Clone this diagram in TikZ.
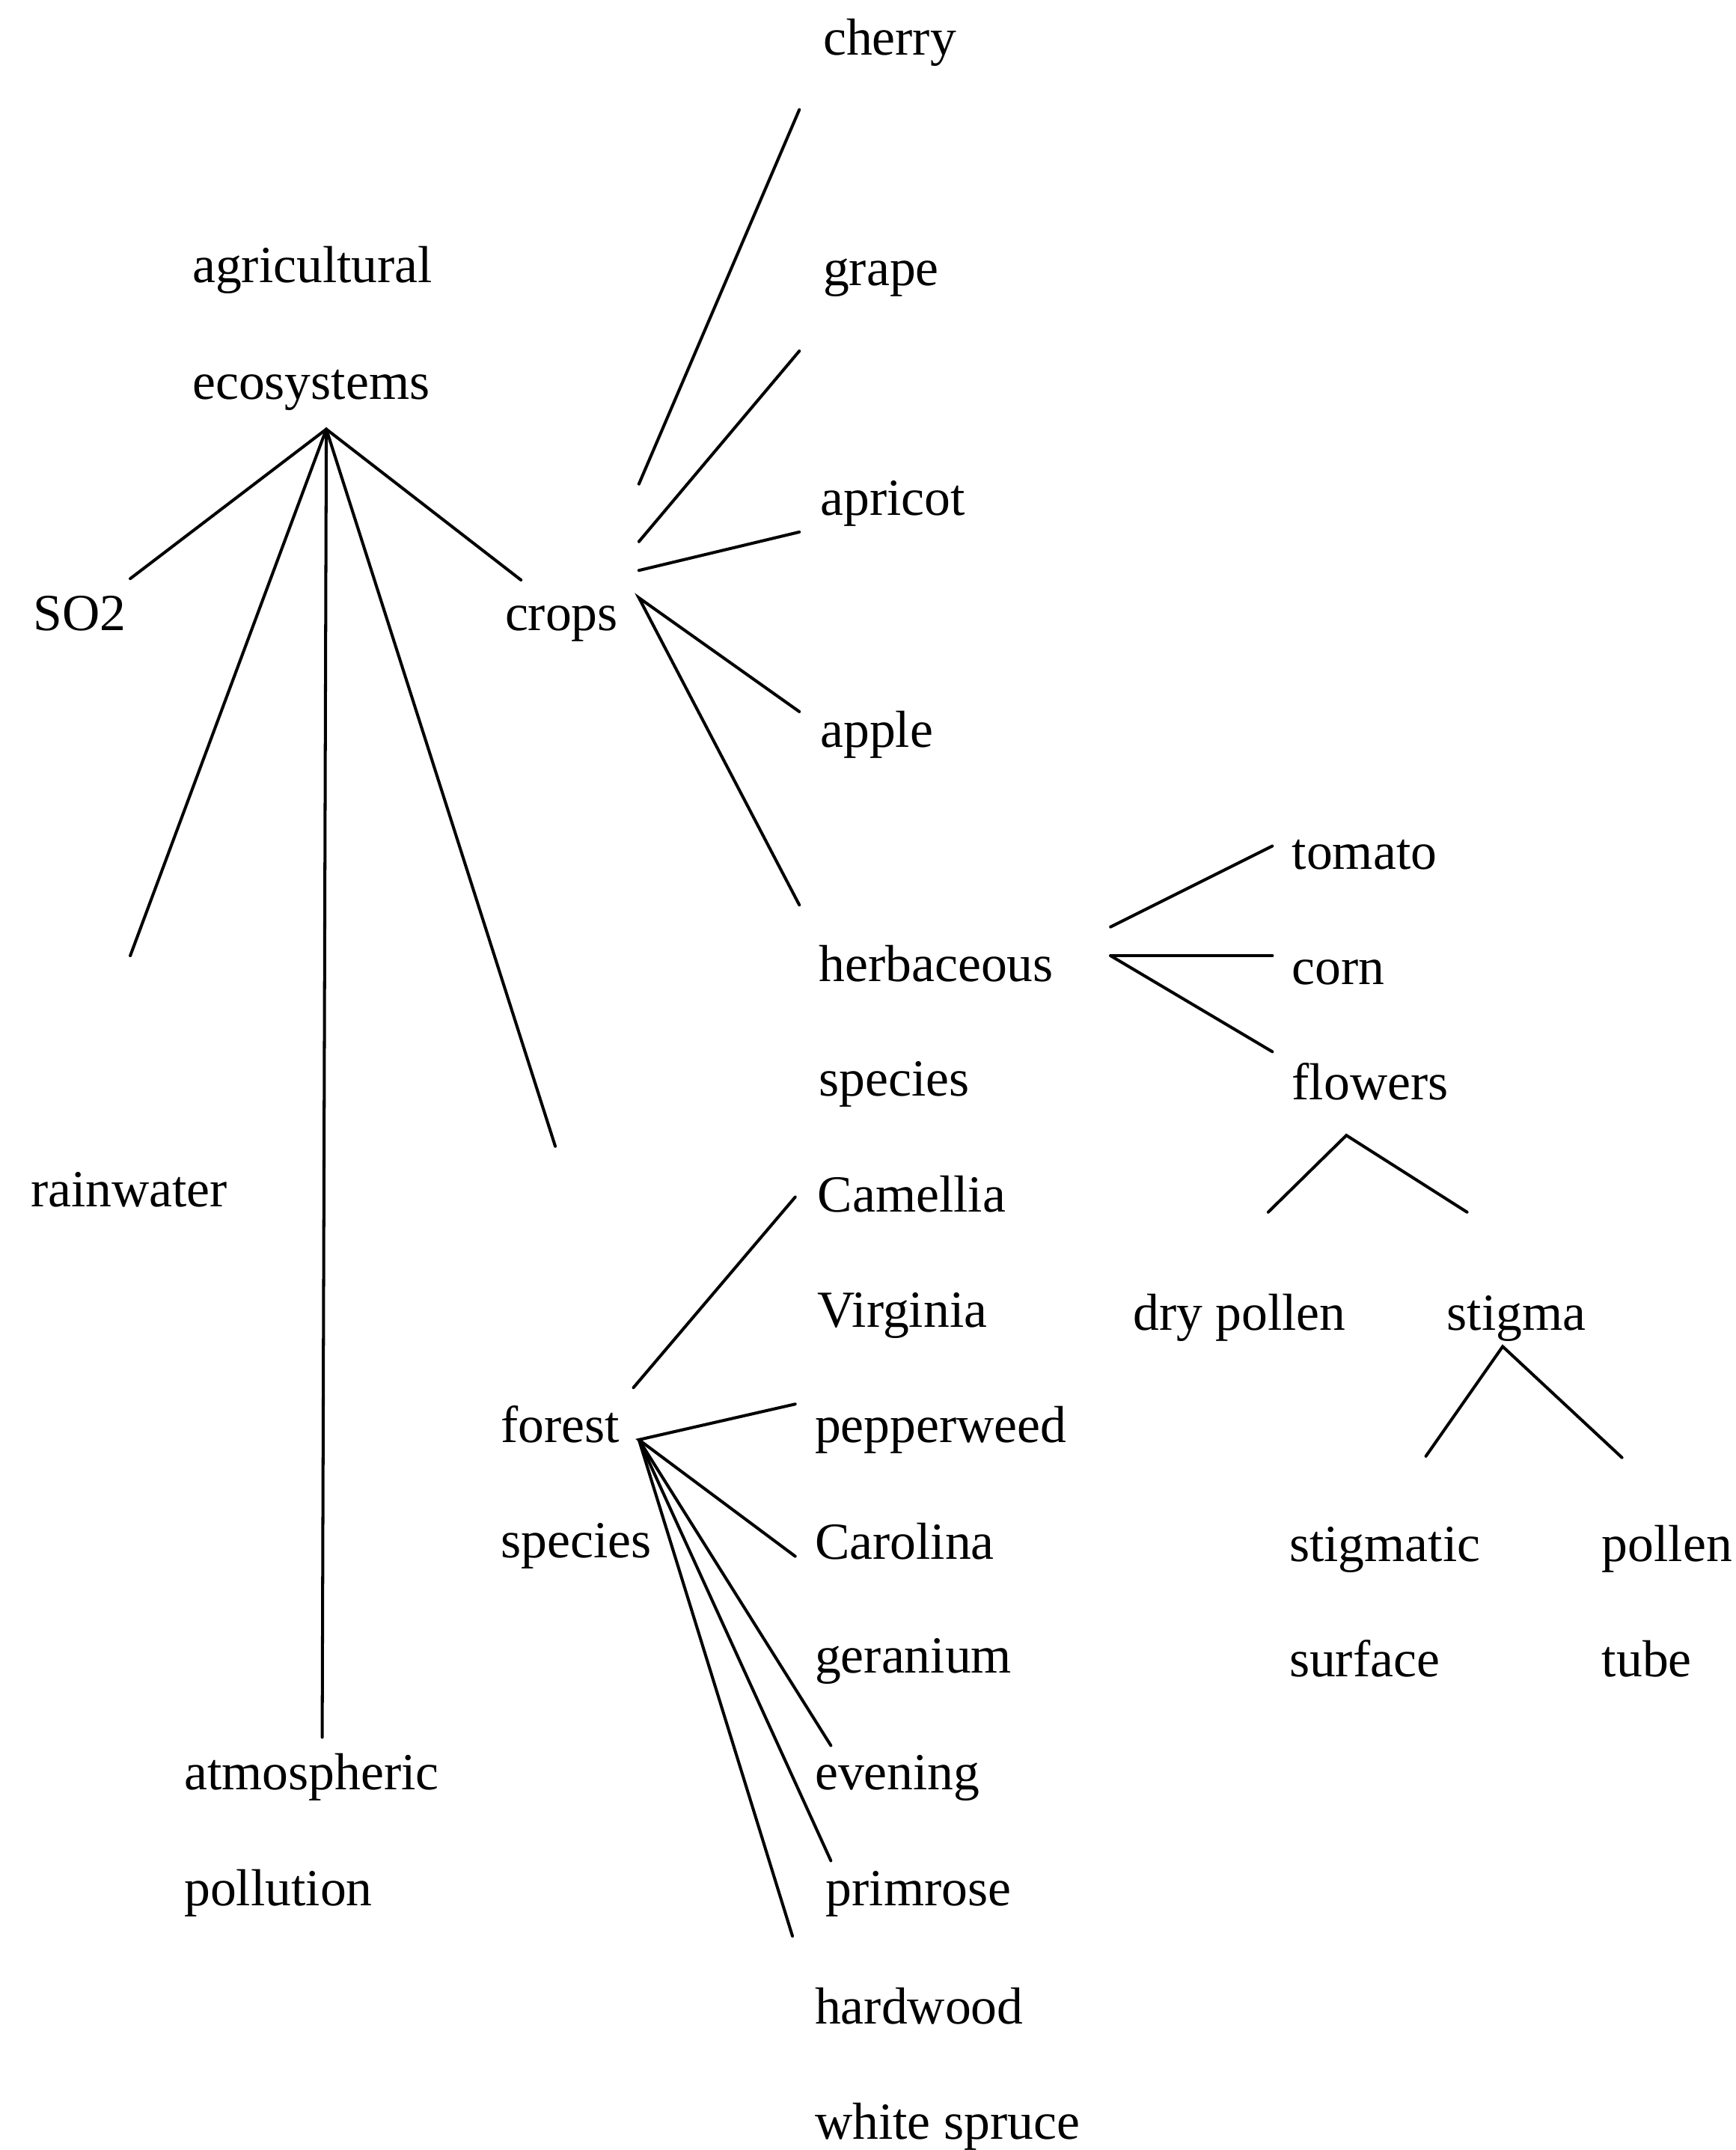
\documentclass[tikz,border=0pt]{standalone}
\usepackage{fontspec}
\setmainfont{Liberation Serif}
\begin{document}
\begin{tikzpicture}[x=0.5pt,y=-0.5pt,
  lbl/.style={anchor=base west, inner sep=0pt, font=\fontsize{19}{22}\selectfont},
  conn/.style={line width=1.1pt, line cap=round}]
\useasboundingbox (0,0) rectangle (1266,1568);
% labels
\node[lbl] (cherry) at (600,40) {cherry};
\node[lbl] (agri) at (140,206) {agricultural};
\node[lbl] (grape) at (600,208) {grape};
\node[lbl] (eco) at (140,291) {ecosystems};
\node[lbl] (apricot) at (598,376) {apricot};
\node[lbl] (so2) at (24,460) {SO2};
\node[lbl] (crops) at (368,460) {crops};
\node[lbl] (apple) at (598,545) {apple};
\node[lbl] (tomato) at (942,634) {tomato};
\node[lbl] (herb) at (597,716) {herbaceous};
\node[lbl] (corn) at (942,718) {corn};
\node[lbl] (herbsp) at (597,799) {species};
\node[lbl] (flowers) at (942,802) {flowers};
\node[lbl] (rain) at (22,880) {rainwater};
\node[lbl] (camellia) at (596,884) {Camellia};
\node[lbl] (virginia) at (596,968) {Virginia};
\node[lbl] (dry) at (826,970) {dry pollen};
\node[lbl] (stigma) at (1055,970) {stigma};
\node[lbl] (forest) at (365,1052) {forest};
\node[lbl] (pepper) at (594,1052) {pepperweed};
\node[lbl] (forestsp) at (365,1136) {species};
\node[lbl] (carolina) at (594,1137) {Carolina};
\node[lbl] (stigmatic) at (940,1139) {stigmatic};
\node[lbl] (pollen) at (1168,1139) {pollen};
\node[lbl] (geranium) at (594,1220) {geranium};
\node[lbl] (surface) at (940,1223) {surface};
\node[lbl] (tube) at (1168,1223) {tube};
\node[lbl] (atmo) at (134,1305) {atmospheric};
\node[lbl] (evening) at (594,1305) {evening};
\node[lbl] (primrose) at (602,1390) {primrose};
\node[lbl] (pollution) at (134,1390) {pollution};
\node[lbl] (hardwood) at (594,1476) {hardwood};
\node[lbl] (spruce) at (594,1560) {white spruce};
% connector end points
\coordinate (e0) at (238,313);
\coordinate (e1) at (95,422);
\coordinate (e2) at (95,697);
\coordinate (e3) at (235,1267);
\coordinate (e4) at (405,836);
\coordinate (e5) at (380,423);
\coordinate (c1a) at (466,353); \coordinate (c1b) at (583,80);
\coordinate (c2a) at (466,395); \coordinate (c2b) at (583,256);
\coordinate (c3a) at (466,416); \coordinate (c3b) at (583,388);
\coordinate (c4a) at (466,436); \coordinate (c4b) at (583,519);
\coordinate (c5b) at (583,660);
\coordinate (h1a) at (810,676); \coordinate (h1b) at (928,617);
\coordinate (h2a) at (810,697); \coordinate (h2b) at (928,697);
\coordinate (h3b) at (928,767);
\coordinate (f0) at (982,828); \coordinate (f1) at (925,884); \coordinate (f2) at (1070,884);
\coordinate (s0) at (1096,982); \coordinate (s1) at (1040,1062); \coordinate (s2) at (1183,1063);
\coordinate (g1a) at (462,1012); \coordinate (g1b) at (580,873);
\coordinate (g0) at (466,1050);
\coordinate (g2) at (580,1024);
\coordinate (g3) at (580,1135);
\coordinate (g4) at (606,1273);
\coordinate (g5) at (606,1357);
\coordinate (g6) at (578,1412);
% connectors
\draw[conn] (e1) -- (e0) -- (e5);
\draw[conn] (e0) -- (e2);
\draw[conn] (e0) -- (e3);
\draw[conn] (e0) -- (e4);
\draw[conn] (c1a) -- (c1b);
\draw[conn] (c2a) -- (c2b);
\draw[conn] (c3a) -- (c3b);
\draw[conn] (c4b) -- (c4a) -- (c5b);
\draw[conn] (h1a) -- (h1b);
\draw[conn] (h2a) -- (h2b);
\draw[conn] (h2a) -- (h3b);
\draw[conn] (f1) -- (f0) -- (f2);
\draw[conn] (s1) -- (s0) -- (s2);
\draw[conn] (g1a) -- (g1b);
\draw[conn] (g2) -- (g0) -- (g3);
\draw[conn] (g0) -- (g4);
\draw[conn] (g0) -- (g5);
\draw[conn] (g0) -- (g6);
\end{tikzpicture}
\end{document}
